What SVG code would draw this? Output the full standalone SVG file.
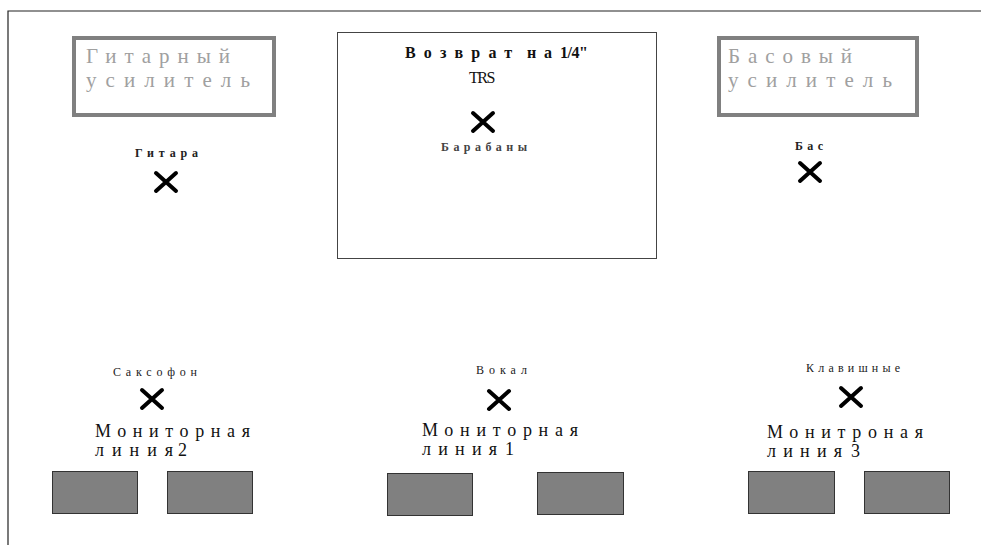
<svg xmlns="http://www.w3.org/2000/svg" width="981" height="545" viewBox="0 0 981 545">
<style>
.amp{fill:#fff;stroke:#808080;stroke-width:4}
.ampt{font-family:"Liberation Serif",serif;font-size:21px;fill:#a0a0a0}
.lbl{font-family:"Liberation Serif",serif;font-size:12px;font-weight:bold;fill:#222}
.lbn{font-family:"Liberation Serif",serif;font-size:12px;fill:#222}
.mon{font-family:"Liberation Serif",serif;font-size:18px;fill:#111}
.ttl{font-family:"Liberation Serif",serif;font-size:16px;font-weight:bold;fill:#111}
.spk{fill:#808080;stroke:#333;stroke-width:1}
.x{stroke:#000;stroke-width:4;stroke-linecap:round;fill:none}
</style>
<defs>
<path id="xm" class="x" d="M-10,-9 L10,9 M10,-9 L-10,9"/>
</defs>
<rect width="981" height="545" fill="#fff"/>
<g id="frame" stroke="#222" stroke-width="1.2" fill="none">
<path d="M8,545 L8,11 L981,11"/>
</g>
<g id="guitar-amp">
<rect class="amp" x="74" y="38" width="200" height="77"/>
<text class="ampt" x="86" y="63" textLength="144" lengthAdjust="spacing">Гитарный</text>
<text class="ampt" x="86" y="87" textLength="164" lengthAdjust="spacing">усилитель</text>
</g>
<g id="drum-riser">
<rect x="337.5" y="32.5" width="319" height="226" fill="#fff" stroke="#444" stroke-width="1"/>
<text class="ttl" x="405" y="58" textLength="107" lengthAdjust="spacing">Возврат</text>
<text class="ttl" x="527" y="58" textLength="25" lengthAdjust="spacing">на</text>
<text class="ttl" x="560" y="58" letter-spacing="-0.5">1/4"</text>
<text x="469" y="83" font-family="Liberation Serif,serif" font-size="16" fill="#111" letter-spacing="-1.5">TRS</text>
</g>
<g id="bass-amp">
<rect class="amp" x="719" y="38" width="198" height="77"/>
<text class="ampt" x="728" y="63" textLength="124" lengthAdjust="spacing">Басовый</text>
<text class="ampt" x="728" y="87" textLength="164" lengthAdjust="spacing">усилитель</text>
</g>
<g id="guitar">
<text class="lbl" x="135" y="157" textLength="63" lengthAdjust="spacing">Гитара</text>
<use href="#xm" x="166" y="182"/>
</g>
<g id="drums">
<use href="#xm" x="483" y="122"/>
<text class="lbl" x="441" y="151" textLength="86" lengthAdjust="spacing" style="fill:#444">Барабаны</text>
</g>
<g id="bass">
<text class="lbl" x="795" y="150" textLength="28" lengthAdjust="spacing">Бас</text>
<use href="#xm" x="810" y="172"/>
</g>
<g id="sax">
<text class="lbn" x="113" y="376" textLength="84" lengthAdjust="spacing">Саксофон</text>
<use href="#xm" x="152" y="399"/>
</g>
<g id="vocal">
<text class="lbn" x="476" y="374" textLength="51" lengthAdjust="spacing">Вокал</text>
<use href="#xm" x="499" y="400"/>
</g>
<g id="keys">
<text class="lbn" x="806" y="372" textLength="94" lengthAdjust="spacing">Клавишные</text>
<use href="#xm" x="851" y="397"/>
</g>
<g id="monitor-2">
<text class="mon" x="95" y="437" textLength="155" lengthAdjust="spacing">Мониторная</text>
<text class="mon" x="95" y="456" textLength="78" lengthAdjust="spacing">линия</text>
<text class="mon" x="178" y="456">2</text>
<rect class="spk" x="52.5" y="471.5" width="85" height="42"/>
<rect class="spk" x="167.5" y="471.5" width="85" height="42"/>
</g>
<g id="monitor-1">
<text class="mon" x="422" y="436" textLength="156" lengthAdjust="spacing">Мониторная</text>
<text class="mon" x="422" y="455" textLength="75" lengthAdjust="spacing">линия</text>
<text class="mon" x="505" y="455">1</text>
<rect class="spk" x="387.5" y="473.5" width="85" height="42"/>
<rect class="spk" x="537.5" y="472.5" width="86" height="42"/>
</g>
<g id="monitor-3">
<text class="mon" x="767" y="438" textLength="156" lengthAdjust="spacing">Монитроная</text>
<text class="mon" x="767" y="457" textLength="75" lengthAdjust="spacing">линия</text>
<text class="mon" x="851" y="457">3</text>
<rect class="spk" x="748.5" y="471.5" width="86" height="42"/>
<rect class="spk" x="864.5" y="471.5" width="85" height="42"/>
</g>
<g id="connectors"></g>
</svg>
